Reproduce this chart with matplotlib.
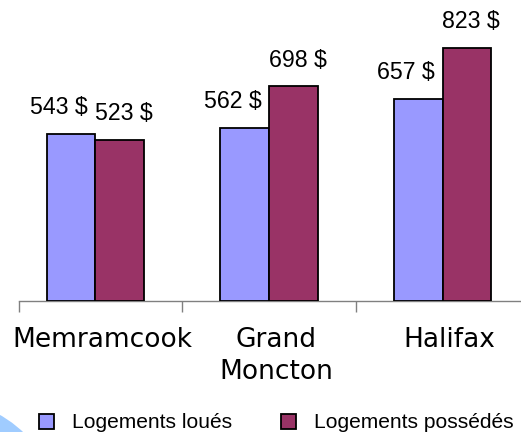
import matplotlib
matplotlib.use("Agg")
import matplotlib.pyplot as plt
from matplotlib.patches import Patch, Circle
import numpy as np

categories = ["Memramcook", "Grand\nMoncton", "Halifax"]
series_names = ["Logements loués", "Logements possédés"]
loues = [543, 562, 657]
possedes = [523, 698, 823]
value_labels_loues = ["543 $", "562 $", "657 $"]
value_labels_possedes = ["523 $", "698 $", "823 $"]

c_blue = "#9999FF"
c_maroon = "#993366"

W, H = 521, 432
fig = plt.figure(figsize=(W / 100, H / 100), dpi=100)
ax = fig.add_axes([19 / W, (H - 300.7) / H, (W - 19) / W, 300.7 / H])

x = np.arange(len(categories))
bw = 0.282
ax.bar(x - bw / 2, loues, bw, color=c_blue, edgecolor="black", linewidth=1.3, zorder=3)
ax.bar(x + bw / 2, possedes, bw, color=c_maroon, edgecolor="black", linewidth=1.3, zorder=3)

ax.set_xlim(-0.4409, 2.4524)
ax.set_ylim(0, 978)

for s in ["top", "right", "left"]:
    ax.spines[s].set_visible(False)
ax.spines["bottom"].set_color("#808080")
ax.spines["bottom"].set_linewidth(1.0)
ax.set_yticks([])
ax.set_xticks([-0.4409, 0.5, 1.5])
ax.set_xticklabels([])
ax.tick_params(axis="x", length=8, color="#808080", width=1.0, direction="out")

vfont = dict(family="Liberation Sans", size=16.7)
for i in range(len(categories)):
    ax.annotate(value_labels_loues[i], (x[i] - bw / 2, loues[i]),
                xytext=(-12, 26), textcoords="offset pixels",
                ha="center", va="center", **vfont)
    ax.annotate(value_labels_possedes[i], (x[i] + bw / 2, possedes[i]),
                xytext=(4, 26), textcoords="offset pixels",
                ha="center", va="center", **vfont)

for i, cat in enumerate(categories):
    ax.annotate(cat, (x[i], 0), xycoords=("data", "data"),
                xytext=(7, -26), textcoords="offset pixels",
                ha="center", va="top", family="DejaVu Sans", size=19,
                linespacing=1.32, annotation_clip=False)

handles = [Patch(facecolor=c_blue, edgecolor="black", linewidth=1.3),
           Patch(facecolor=c_maroon, edgecolor="black", linewidth=1.3)]
leg = fig.legend(handles, series_names, loc="center left",
                 bbox_to_anchor=(39 / W, (H - 423) / H), ncol=2, frameon=False,
                 prop=dict(family="Liberation Sans", size=15.1),
                 handlelength=0.72, handleheight=0.72, handletextpad=0.85,
                 columnspacing=2.35, borderaxespad=0, borderpad=0)

circ = Circle((-60, -88), 121, transform=None, facecolor="#A0CCFF",
              edgecolor="none", zorder=0)
fig.patches.append(circ)

fig.savefig("out.png", dpi=100)
